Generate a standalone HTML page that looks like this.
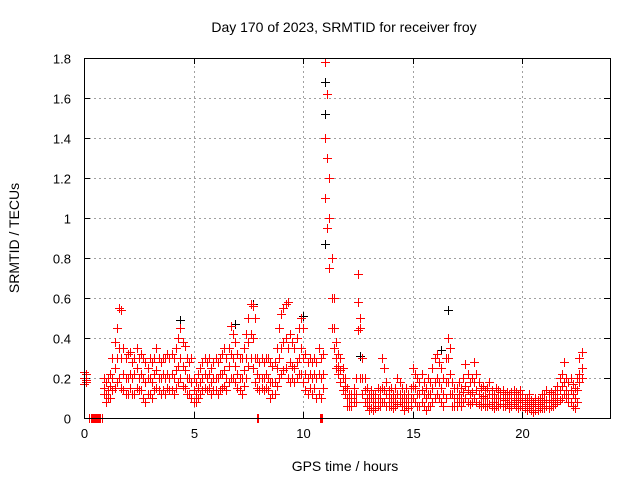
<!DOCTYPE html>
<html><head><meta charset="utf-8"><style>
body{margin:0;background:#fff}
svg{display:block;font-family:"Liberation Sans",sans-serif}
</style></head><body>
<svg id="chart" width="640" height="480" viewBox="0 0 640 480" xmlns="http://www.w3.org/2000/svg">
<rect width="640" height="480" fill="#fff"/>
<text x="344" y="32" font-size="14" text-anchor="middle">Day 170 of 2023, SRMTID for receiver froy</text>
<text x="345" y="471" font-size="14" text-anchor="middle">GPS time / hours</text>
<text transform="translate(19,238) rotate(-90)" font-size="14" text-anchor="middle">SRMTID / TECUs</text>
<g id="grid" shape-rendering="crispEdges"></g><g id="ticks"></g><g id="marks" shape-rendering="crispEdges"></g>
<rect x="84.5" y="58.5" width="526" height="360" fill="none" stroke="#000" stroke-width="1" shape-rendering="crispEdges"/>
</svg>
<script>
const xTicks=[0,5,10,15,20];
const yTicks=[0,0.2,0.4,0.6,0.8,1,1.2,1.4,1.6,1.8];
const yTickLabels=["0","0.2","0.4","0.6","0.8","1","1.2","1.4","1.6","1.8"];
const t0=0, dt=0.1;
const redHi=[0.23,0.22,null,null,null,null,null,null,null,0.2,
0.18,0.2,0.22,0.3,0.38,0.45,0.55,0.54,0.35,0.3,
0.32,0.33,0.28,0.3,0.35,0.3,0.32,0.3,0.28,0.25,
0.3,0.28,0.3,0.35,0.3,0.28,0.3,0.3,0.32,0.3,
0.32,0.3,0.35,0.4,0.45,0.38,0.36,0.3,0.28,0.3,
0.2,0.18,0.22,0.25,0.28,0.3,0.28,0.3,0.25,0.28,
0.3,0.28,0.3,0.32,0.35,0.3,0.35,0.46,0.42,0.38,
0.32,0.3,0.3,0.35,0.42,0.5,0.57,0.56,0.5,0.3,
0.28,0.3,0.28,0.3,0.3,0.28,0.26,0.28,0.35,0.45,
0.52,0.55,0.57,0.58,0.42,0.38,0.35,0.4,0.45,0.5,
0.45,0.32,0.28,0.3,0.28,0.3,0.28,0.35,0.3,0.32,
1.78,1.62,1.2,0.8,0.6,0.38,0.32,0.3,0.25,0.2,
0.15,0.12,0.12,0.15,0.2,0.72,0.5,0.3,0.2,0.15,
0.12,0.14,0.12,0.12,0.15,0.14,0.3,0.25,0.18,0.14,
0.15,0.12,0.15,0.2,0.18,0.15,0.12,0.15,0.12,0.15,
0.25,0.22,0.2,0.18,0.22,0.18,0.15,0.2,0.18,0.25,
0.3,0.32,0.28,0.25,0.2,0.3,0.4,0.35,0.18,0.15,
0.15,0.18,0.15,0.2,0.27,0.22,0.18,0.2,0.28,0.22,
0.18,0.15,0.16,0.14,0.15,0.18,0.14,0.12,0.15,0.14,
0.13,0.14,0.12,0.13,0.12,0.13,0.14,0.13,0.12,0.14,
0.12,0.1,0.1,0.12,0.09,0.08,0.1,0.09,0.1,0.12,
0.12,0.14,0.12,0.13,0.12,0.14,0.16,0.2,0.22,0.28,
0.2,0.18,0.2,0.17,0.15,0.2,0.3,0.33];
const redMid=[0.2,0.19,null,null,null,null,null,null,null,0.15,
0.12,0.14,0.16,0.2,0.25,0.3,0.35,0.3,0.22,0.2,
0.2,0.22,0.2,0.22,0.25,0.2,0.22,0.2,0.18,0.2,
0.2,0.18,0.22,0.24,0.2,0.2,0.22,0.2,0.22,0.2,
0.22,0.2,0.24,0.26,0.3,0.26,0.24,0.2,0.2,0.18,
0.14,0.12,0.15,0.18,0.2,0.22,0.2,0.22,0.18,0.2,
0.2,0.2,0.22,0.22,0.24,0.2,0.26,0.32,0.3,0.26,
0.22,0.2,0.2,0.24,0.3,0.38,0.42,0.4,0.3,0.22,
0.2,0.2,0.2,0.22,0.2,0.18,0.18,0.18,0.25,0.3,
0.35,0.38,0.4,0.35,0.28,0.26,0.25,0.28,0.3,0.35,
0.3,0.22,0.2,0.22,0.2,0.22,0.2,0.22,0.2,0.22,
1.4,1.3,1.0,0.6,0.45,0.3,0.26,0.24,0.2,0.16,
0.1,0.1,0.1,0.12,0.12,0.58,0.45,0.2,0.14,0.1,
0.08,0.1,0.08,0.08,0.1,0.1,0.15,0.14,0.12,0.1,
0.1,0.08,0.1,0.12,0.12,0.1,0.08,0.1,0.08,0.1,
0.16,0.15,0.12,0.12,0.14,0.12,0.1,0.12,0.12,0.15,
0.18,0.2,0.18,0.15,0.12,0.18,0.3,0.22,0.12,0.1,
0.1,0.12,0.1,0.13,0.16,0.14,0.12,0.13,0.18,0.14,
0.12,0.1,0.11,0.1,0.1,0.12,0.1,0.08,0.1,0.1,
0.1,0.1,0.09,0.1,0.08,0.1,0.1,0.09,0.08,0.1,
0.09,0.08,0.07,0.08,0.06,0.06,0.07,0.06,0.07,0.08,
0.08,0.09,0.08,0.09,0.09,0.1,0.12,0.14,0.16,0.18,
0.14,0.12,0.14,0.12,0.1,0.14,0.22,0.25];
const redLo=[0.17,0.18,null,null,null,null,null,null,null,0.12,
0.08,0.1,0.1,0.14,0.15,0.18,0.2,0.15,0.14,0.12,
0.12,0.15,0.12,0.12,0.15,0.14,0.14,0.1,0.08,0.12,
0.12,0.1,0.14,0.15,0.14,0.12,0.14,0.12,0.15,0.14,
0.14,0.12,0.15,0.18,0.2,0.16,0.15,0.12,0.12,0.1,
0.08,0.08,0.1,0.12,0.14,0.15,0.14,0.15,0.12,0.14,
0.14,0.12,0.14,0.15,0.16,0.14,0.18,0.2,0.2,0.18,
0.15,0.14,0.12,0.16,0.2,0.26,0.3,0.25,0.18,0.15,
0.14,0.15,0.14,0.15,0.14,0.1,0.12,0.12,0.16,0.2,
0.22,0.24,0.25,0.2,0.18,0.2,0.18,0.2,0.22,0.22,
0.18,0.14,0.12,0.15,0.12,0.15,0.1,0.12,0.1,0.15,
1.1,0.95,0.75,0.45,0.35,0.25,0.22,0.18,0.14,0.12,
0.06,0.06,0.06,0.08,0.08,0.44,0.2,0.12,0.08,0.06,
0.04,0.05,0.04,0.05,0.06,0.06,0.08,0.08,0.06,0.06,
0.06,0.05,0.06,0.07,0.08,0.06,0.04,0.06,0.05,0.06,
0.1,0.08,0.06,0.06,0.08,0.06,0.04,0.06,0.06,0.08,
0.1,0.12,0.1,0.08,0.06,0.1,0.18,0.12,0.06,0.06,
0.06,0.08,0.06,0.08,0.1,0.08,0.07,0.08,0.1,0.08,
0.07,0.06,0.07,0.06,0.06,0.07,0.06,0.05,0.06,0.06,
0.07,0.06,0.06,0.07,0.05,0.06,0.07,0.06,0.05,0.06,
0.06,0.05,0.04,0.05,0.04,0.03,0.04,0.04,0.05,0.05,
0.05,0.06,0.05,0.06,0.06,0.07,0.08,0.09,0.1,0.12,
0.1,0.08,0.08,0.06,0.05,0.08,0.18,0.2];
const zeroTimes=[0.25,0.3,0.35,0.4,0.45,0.5,0.55,0.6,0.65,0.7,0.75,0.8,7.9,7.93,10.75,10.8,10.85];
const blackTimes=[4.4,6.9,7.7,9.3,10.0,11.0,11.0,11.0,11.0,12.6,16.3,16.6,16.6];
const blackVals=[0.49,0.47,0.57,0.58,0.51,1.78,1.68,1.52,0.87,0.31,0.34,0.54,0.4];

const X0=84,X1=610,Y0=418,Y1=58,XMAX=24,YMAX=1.8;
const sx=v=>X0+(v/XMAX)*(X1-X0);
const sy=v=>Y0-(v/YMAX)*(Y0-Y1);
const NS="http://www.w3.org/2000/svg";
function mk(tag,attrs,parent){const e=document.createElementNS(NS,tag);for(const k in attrs)e.setAttribute(k,attrs[k]);parent.appendChild(e);return e;}
const grid=document.getElementById('grid'),ticks=document.getElementById('ticks'),marks=document.getElementById('marks');
const px=v=>Math.round(v)+0.5;
xTicks.forEach((v,i)=>{
  const x=px(sx(v));
  if(v>0){const g=mk('line',{x1:x,x2:x,y1:Y0,y2:Y1,stroke:'#a0a0a0','stroke-dasharray':'2,3'},grid);
  
  }
  const t=mk('line',{x1:x,x2:x,y1:Y0,y2:Y0-6,stroke:'#000'},grid);
  
  
  const t2=mk('line',{x1:x,x2:x,y1:Y1,y2:Y1+6,stroke:'#000'},grid);
  
  
  const l=mk('text',{x:x,y:Y0+20,'font-size':13,'text-anchor':'middle'},ticks);l.textContent=String(v);
  
  
});
yTicks.forEach((v,i)=>{
  const y=px(sy(v));
  if(v>0&&v<YMAX){const g=mk('line',{x1:X0,x2:X1,y1:y,y2:y,stroke:'#a0a0a0','stroke-dasharray':'2,3'},grid);
  
  }
  const t=mk('line',{x1:X0,x2:X0+6,y1:y,y2:y,stroke:'#000'},grid);
  
  
  const t2=mk('line',{x1:X1,x2:X1-6,y1:y,y2:y,stroke:'#000'},grid);
  
  
  const l=mk('text',{x:X0-13,y:y+5,'font-size':13,'text-anchor':'end'},ticks);l.textContent=yTickLabels[i];
  
  
});
function plus(x,y,color,name){
  x=px(x);y=px(y);
  const p=mk('path',{d:`M${x-4.5},${y}h9M${x},${y-4.5}v9`,stroke:color,'stroke-width':1,fill:'none'},marks);
  
  
}
blackTimes.forEach((t,i)=>plus(sx(t),sy(blackVals[i]),'#000','black-point'));
[redLo,redMid,redHi].forEach(arr=>arr.forEach((v,i)=>{
  if(v===null)return;
  const t=t0+i*dt;
  plus(sx(t),sy(v),'#f00','red-point');
}));
zeroTimes.forEach(t=>plus(sx(t),sy(0),'#f00','zero-point'));
</script>
</body></html>
